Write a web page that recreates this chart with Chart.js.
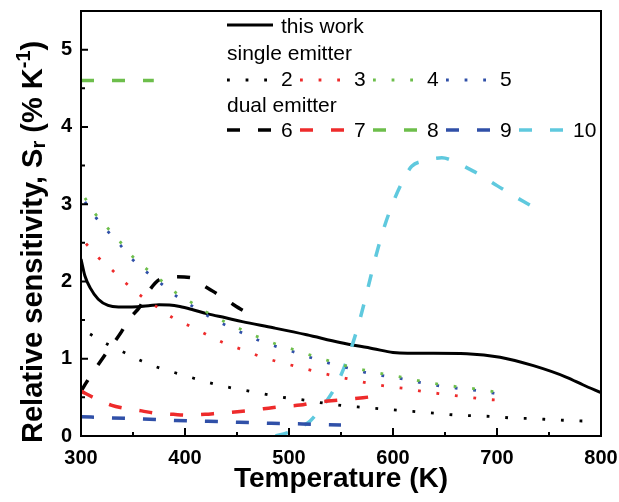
<!DOCTYPE html>
<html lang="en">
<head>
<meta charset="UTF-8">
<title>Relative sensitivity</title>
<script src="https://cdn.jsdelivr.net/npm/chart.js@4.4.0/dist/chart.umd.min.js"></script>
<style>
  body { margin: 0; background: #fff; }
  canvas { display: block; }
</style>
</head>
<body>
<canvas id="chart" width="619" height="502"></canvas>
<script>
// ---- data ----
const xTicks = [300, 400, 500, 600, 700, 800];
const yTicks = [0, 1, 2, 3, 4, 5];

// this work (solid)
const workT = [300, 303.8, 308.7, 316.6, 326, 336, 349, 365, 375, 385, 395, 406, 422, 439, 455, 485, 517, 549, 581, 600, 614, 639, 671, 703, 735, 767, 783, 800];
const workS = [2.29, 2.07, 1.92, 1.77, 1.69, 1.67, 1.67, 1.685, 1.70, 1.695, 1.675, 1.64, 1.58, 1.53, 1.48, 1.40, 1.31, 1.21, 1.13, 1.08, 1.07, 1.07, 1.065, 1.02, 0.91, 0.76, 0.66, 0.56];

// single emitter (dotted)
const s2T = [308.7, 325, 341.7, 358.4, 375.4, 392.7, 410.4, 427.7, 445.6, 464, 481.6, 499.5, 517.8, 535.8, 553.8, 572, 590, 608.3, 625.6, 644, 662, 680.5, 698.5, 716.8, 735, 753, 771.3, 789.6];
const s2S = [1.32, 1.19, 1.08, 0.97, 0.88, 0.81, 0.74, 0.675, 0.62, 0.575, 0.53, 0.49, 0.46, 0.42, 0.39, 0.37, 0.35, 0.33, 0.31, 0.29, 0.27, 0.26, 0.25, 0.23, 0.225, 0.21, 0.20, 0.19];

const s3T = [304.8, 316.6, 329.8, 343, 358, 373, 388.3, 405, 421.3, 438, 454.7, 472.3, 489.6, 507, 524.3, 542.5, 560.2, 577.9, 595.5, 614, 632, 650, 668, 686, 704];
const s3S = [2.49, 2.31, 2.15, 1.98, 1.81, 1.67, 1.53, 1.42, 1.31, 1.20, 1.12, 1.03, 0.96, 0.90, 0.84, 0.78, 0.73, 0.68, 0.64, 0.61, 0.57, 0.54, 0.51, 0.48, 0.46];

const s45T = [303.8, 313.5, 325.7, 337.8, 349.8, 363.2, 378.2, 391.7, 407.1, 422.5, 439.6, 455.6, 472.3, 489.6, 506.6, 524.3, 541.9, 559.6, 577.5, 595.2, 612.8, 630.4, 648.7, 667, 685, 702.6];
const s4S = [3.08, 2.88, 2.69, 2.51, 2.32, 2.16, 2.00, 1.85, 1.72, 1.59, 1.47, 1.37, 1.27, 1.18, 1.11, 1.03, 0.96, 0.89, 0.84, 0.79, 0.75, 0.70, 0.66, 0.63, 0.60, 0.56];
const s5S = [3.03, 2.84, 2.65, 2.47, 2.28, 2.12, 1.96, 1.81, 1.68, 1.55, 1.43, 1.33, 1.23, 1.15, 1.08, 1.00, 0.93, 0.87, 0.81, 0.77, 0.73, 0.68, 0.64, 0.61, 0.58, 0.54];

// dual emitter (dashed)
const d6T = [300, 305.5, 322, 329, 339, 345.5, 357, 363, 376, 389, 405, 416, 432, 442, 458, 469];
const d6S = [0.58, 0.70, 1.03, 1.16, 1.35, 1.50, 1.68, 1.83, 2.03, 2.06, 2.05, 1.96, 1.83, 1.74, 1.61, 1.57];

const d7T = [300, 311.8, 328.9, 340.7, 358.4, 371.2, 388.8, 401.7, 419.3, 432, 450.4, 480.3, 492.5, 510.8, 522.6, 540.6, 552.5, 571.1, 583];
const d7S = [0.58, 0.50, 0.40, 0.36, 0.325, 0.295, 0.28, 0.27, 0.28, 0.295, 0.315, 0.36, 0.38, 0.40, 0.43, 0.455, 0.47, 0.495, 0.515];

const d8T = [300, 370];
const d8S = [4.6, 4.6];

const d9T = [300, 330, 360, 391, 422, 452, 483, 513, 550];
const d9S = [0.25, 0.234, 0.22, 0.20, 0.19, 0.178, 0.165, 0.156, 0.143];

const d10T = [487, 498, 511, 520, 528, 536, 544, 551, 557, 563, 569, 576, 583, 591, 600, 609, 618, 630, 647, 658, 674, 685, 700, 711, 726, 738];
const d10S = [0.00, 0.04, 0.12, 0.19, 0.31, 0.45, 0.62, 0.82, 1.03, 1.27, 1.55, 1.92, 2.30, 2.68, 3.02, 3.29, 3.49, 3.56, 3.60, 3.56, 3.45, 3.37, 3.24, 3.15, 3.03, 2.94];

const singleLabels = ['2', '3', '4', '5'];
const dualLabels = ['6', '7', '8', '9', '10'];

// ---- styles ----
const C = {
  black: '#000000',
  red: '#ee2b2b',
  green: '#6dbe4b',
  blue: '#3050a8',
  cyan: '#5fc9de'
};
const DOT = [2.8, 15.8];
const DASH = [13, 18];
const FONT = 'Liberation Sans, Arial, sans-serif';

function pts(xs, ys) {
  return xs.map((x, i) => ({ x: x, y: ys[i] }));
}

function line(label, xs, ys, color, dash, width) {
  return {
    label: label,
    data: pts(xs, ys),
    borderColor: color,
    borderWidth: width,
    borderDash: dash,
    borderCapStyle: 'butt',
    cubicInterpolationMode: 'monotone',
    pointRadius: 0,
    fill: false
  };
}

const datasets = [
  line('2', s2T, s2S, C.black, DOT, 2.8),
  line('3', s3T, s3S, C.red, DOT, 2.8),
  line('4', s45T, s4S, C.green, DOT, 2.8),
  line('5', s45T, s5S, C.blue, DOT, 2.8),
  line('9', d9T, d9S, C.blue, DASH, 3.5),
  line('7', d7T, d7S, C.red, DASH, 3.5),
  line('8', d8T, d8S, C.green, DASH, 3.5),
  line('6', d6T, d6S, C.black, DASH, 3.5),
  line('10', d10T, d10S, C.cyan, DASH, 3.5),
  line('this work', workT, workS, C.black, [], 3)
];

// frame, inside ticks, titles and grouped legend
const decor = {
  id: 'decor',
  afterDraw(chart) {
    const ctx = chart.ctx;
    const a = chart.chartArea;
    const xs = chart.scales.x, ys = chart.scales.y;
    ctx.save();
    ctx.strokeStyle = '#000';
    ctx.lineWidth = 2;
    ctx.setLineDash([]);
    ctx.strokeRect(a.left, a.top, a.right - a.left, a.bottom - a.top);

    ctx.beginPath();
    for (let v = 300; v <= 800; v += 50) {
      const p = xs.getPixelForValue(v);
      const len = v % 100 === 0 ? 8 : 4;
      ctx.moveTo(p, a.bottom);
      ctx.lineTo(p, a.bottom - len);
    }
    for (let v = 0; v <= 5.5; v += 0.5) {
      const p = ys.getPixelForValue(v);
      const len = v % 1 === 0 ? 7 : 4;
      ctx.moveTo(a.left, p);
      ctx.lineTo(a.left + len, p);
    }
    ctx.stroke();

    // axis titles
    ctx.fillStyle = '#000';
    ctx.textBaseline = 'alphabetic';
    ctx.textAlign = 'center';
    ctx.font = 'bold 28px ' + FONT;
    ctx.fillText('Temperature (K)', (a.left + a.right) / 2, 486.5);

    ctx.save();
    ctx.translate(41.5, 443);
    ctx.rotate(-Math.PI / 2);
    ctx.textAlign = 'left';
    const parts = [
      { t: 'Relative sensitivity, S', size: 29, dy: 0 },
      { t: 'r', size: 20, dy: 3 },
      { t: ' (% K', size: 29, dy: 0 },
      { t: '-1', size: 20, dy: -12 },
      { t: ')', size: 29, dy: 0 }
    ];
    let px = 0;
    parts.forEach(p => {
      ctx.font = 'bold ' + p.size + 'px ' + FONT;
      ctx.fillText(p.t, px, p.dy);
      px += ctx.measureText(p.t).width;
    });
    ctx.restore();

    // legend
    ctx.textAlign = 'left';
    ctx.font = '21px ' + FONT;
    const x0 = 227, step = 73, sw = 46;
    function sample(x, y, color, dash, w) {
      ctx.beginPath();
      ctx.strokeStyle = color;
      ctx.lineWidth = w;
      ctx.setLineDash(dash);
      ctx.moveTo(x, y);
      ctx.lineTo(x + sw, y);
      ctx.stroke();
    }
    sample(x0, 25, C.black, [], 3);
    ctx.fillText('this work', x0 + 54, 33);
    ctx.fillText('single emitter', x0, 60);
    const sCols = [C.black, C.red, C.green, C.blue];
    singleLabels.forEach((t, i) => {
      sample(x0 + i * step, 80, sCols[i], DOT, 2.8);
      ctx.fillText(t, x0 + i * step + 54, 86);
    });
    ctx.fillText('dual emitter', x0, 111.5);
    const dCols = [C.black, C.red, C.green, C.blue, C.cyan];
    dualLabels.forEach((t, i) => {
      sample(x0 + i * step, 130, dCols[i], DASH, 3.5);
      ctx.fillText(t, x0 + i * step + 54, 137);
    });
    ctx.restore();
  }
};

function noPad(s) {
  s.paddingTop = 0;
  s.paddingBottom = 0;
  s.paddingLeft = 0;
  s.paddingRight = 0;
}

Chart.defaults.font.family = FONT;
Chart.defaults.color = '#000';

new Chart(document.getElementById('chart'), {
  type: 'line',
  data: { datasets: datasets },
  options: {
    responsive: false,
    animation: false,
    layout: { padding: { top: 11, right: 18, left: 0, bottom: 0 } },
    plugins: { legend: { display: false }, tooltip: { enabled: false } },
    scales: {
      x: {
        type: 'linear',
        min: 300,
        max: 800,
        afterBuildTicks: s => { s.ticks = xTicks.map(v => ({ value: v })); },
        afterFit: s => { s.height = 66; noPad(s); },
        grid: { display: false, drawTicks: false },
        border: { display: false },
        ticks: { font: { size: 20, weight: 'bold' }, padding: 10, maxRotation: 0 }
      },
      y: {
        min: 0,
        max: 5.5,
        afterBuildTicks: s => { s.ticks = yTicks.map(v => ({ value: v })); },
        afterFit: s => { s.width = 81; noPad(s); },
        grid: { display: false, drawTicks: false },
        border: { display: false },
        ticks: { font: { size: 20, weight: 'bold' }, padding: 9 }
      }
    }
  },
  plugins: [decor]
});
</script>
</body>
</html>
